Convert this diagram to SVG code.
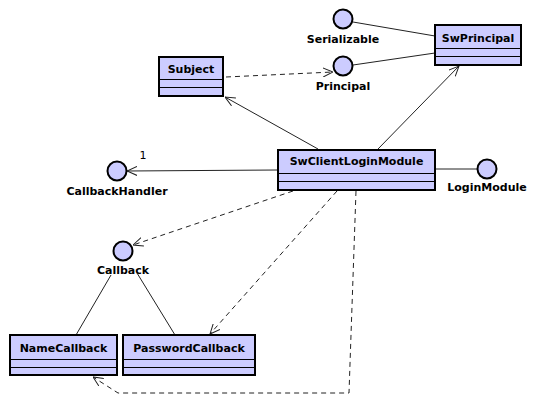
<svg xmlns="http://www.w3.org/2000/svg" width="538" height="420" viewBox="0 0 538 420">
<style>
.box{fill:#ccccff;stroke:#000;stroke-width:2}
.sep{stroke:#000;stroke-width:1}
.ifc{fill:#ccccff;stroke:#000;stroke-width:2}
.t{font-family:"DejaVu Sans",sans-serif;font-weight:bold;font-size:11px;fill:#000;text-anchor:middle}
.m{font-family:"DejaVu Sans",sans-serif;font-size:11px;fill:#000;text-anchor:middle}
.c{fill:none;stroke:#222;stroke-width:1}
.d{fill:none;stroke:#222;stroke-width:1;stroke-dasharray:5,4}
</style>
<defs>
<marker id="open" viewBox="0 0 10 10" refX="10" refY="5" markerWidth="10" markerHeight="10" markerUnits="userSpaceOnUse" orient="auto">
<path d="M0,0.5 L10,5 L0,9.5" fill="none" stroke="#222" stroke-width="1"/>
</marker>
</defs>
<g id="connectors">
<line class="d" x1="226" y1="77" x2="333" y2="72" marker-end="url(#open)"/>
<line class="c" x1="353" y1="22" x2="435" y2="36"/>
<line class="c" x1="353" y1="65" x2="435" y2="53"/>
<line class="c" x1="318" y1="149" x2="225" y2="97" marker-end="url(#open)"/>
<line class="c" x1="378" y1="149" x2="459" y2="66" marker-end="url(#open)"/>
<line class="c" x1="278" y1="170" x2="127" y2="171" marker-end="url(#open)"/>
<text class="m" x="143" y="159">1</text>
<line class="c" x1="436" y1="169" x2="477" y2="169"/>
<line class="d" x1="293" y1="191" x2="133" y2="245" marker-end="url(#open)"/>
<line class="d" x1="337" y1="191" x2="210" y2="334" marker-end="url(#open)"/>
<polyline class="d" points="356,191 349,393 118,393 93,377" marker-end="url(#open)"/>
<line class="c" x1="111" y1="275" x2="76" y2="335"/>
<line class="c" x1="137" y1="273" x2="175" y2="335"/>
</g>
<g id="Subject">
<rect class="box" x="159" y="57" width="64" height="39"/>
<line class="sep" x1="159" y1="79.5" x2="223" y2="79.5"/>
<line class="sep" x1="159" y1="87.5" x2="223" y2="87.5"/>
<text class="t" x="191" y="73">Subject</text>
</g>
<g id="SwPrincipal">
<rect class="box" x="435" y="25" width="86" height="40"/>
<line class="sep" x1="435" y1="48.5" x2="521" y2="48.5"/>
<line class="sep" x1="435" y1="56.5" x2="521" y2="56.5"/>
<text class="t" x="478" y="42">SwPrincipal</text>
</g>
<g id="SwClientLoginModule">
<rect class="box" x="278" y="150" width="157" height="40"/>
<line class="sep" x1="278" y1="173.5" x2="435" y2="173.5"/>
<line class="sep" x1="278" y1="181.5" x2="435" y2="181.5"/>
<text class="t" x="356.5" y="165">SwClientLoginModule</text>
</g>
<g id="NameCallback">
<rect class="box" x="10" y="335" width="107" height="40"/>
<line class="sep" x1="10" y1="359.5" x2="117" y2="359.5"/>
<line class="sep" x1="10" y1="367.5" x2="117" y2="367.5"/>
<text class="t" x="63.5" y="352">NameCallback</text>
</g>
<g id="PasswordCallback">
<rect class="box" x="123" y="335" width="132" height="40"/>
<line class="sep" x1="123" y1="359.5" x2="255" y2="359.5"/>
<line class="sep" x1="123" y1="367.5" x2="255" y2="367.5"/>
<text class="t" x="189" y="352">PasswordCallback</text>
</g>
<g id="Serializable">
<circle class="ifc" cx="343" cy="19" r="9.5"/>
<text class="t" x="343" y="43">Serializable</text>
</g>
<g id="Principal">
<circle class="ifc" cx="343" cy="66" r="9.5"/>
<text class="t" x="343" y="90">Principal</text>
</g>
<g id="CallbackHandler">
<circle class="ifc" cx="117" cy="171" r="9.5"/>
<text class="t" x="117" y="195">CallbackHandler</text>
</g>
<g id="LoginModule">
<circle class="ifc" cx="487" cy="169" r="9.5"/>
<text class="t" x="487" y="191">LoginModule</text>
</g>
<g id="Callback">
<circle class="ifc" cx="123" cy="251" r="9.5"/>
<text class="t" x="123" y="274">Callback</text>
</g>
</svg>
